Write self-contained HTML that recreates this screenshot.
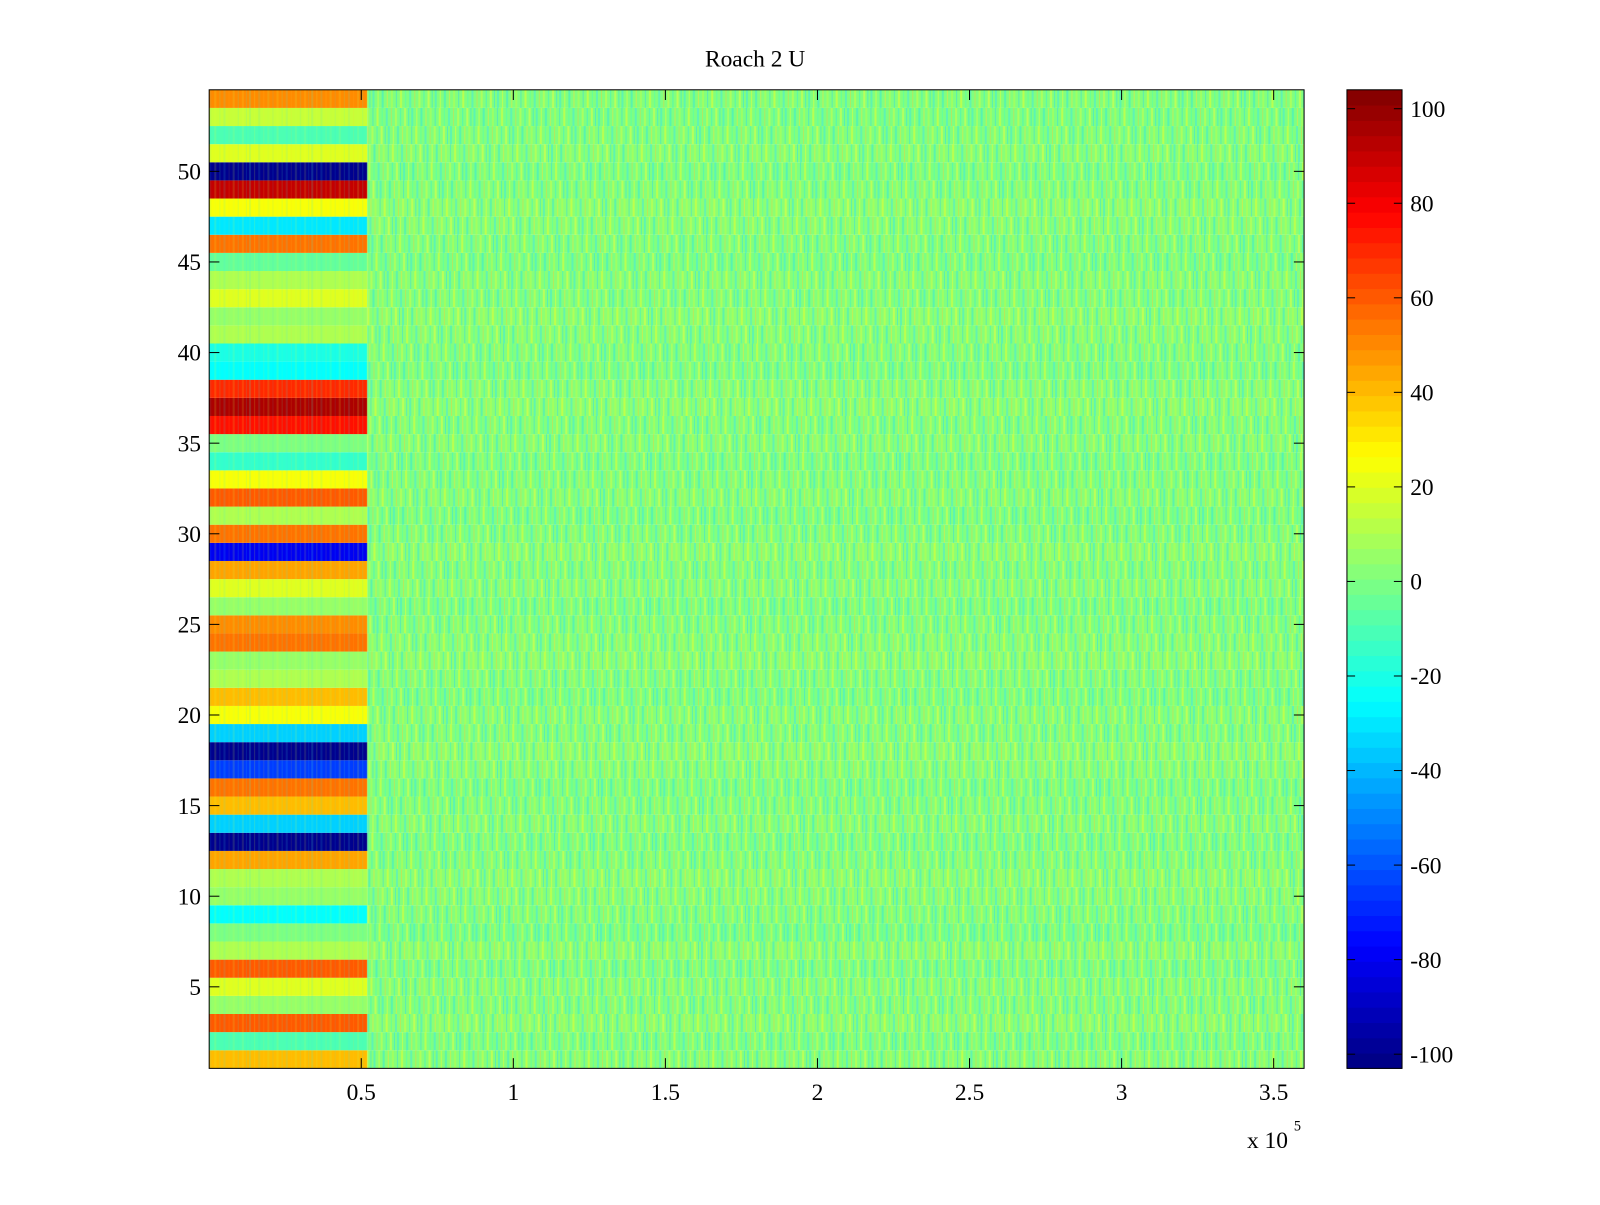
<!DOCTYPE html>
<html><head><meta charset="utf-8"><style>
body{margin:0;background:#fff;}
svg text{font-family:"Liberation Serif",serif;font-size:23px;fill:#000;}
</style></head><body>
<svg id="chart" width="1600" height="1200" viewBox="0 0 1568 1176" preserveAspectRatio="none" xmlns="http://www.w3.org/2000/svg">
<defs>
<pattern id="noise" patternUnits="userSpaceOnUse" width="61" height="18">
<rect x="0" width="2" height="18" fill="#4ff0c8" opacity="0.7"/>
<rect x="5" width="1" height="18" fill="#d8ff40" opacity="0.7"/>
<rect x="9" width="2" height="18" fill="#30e8e0" opacity="0.5"/>
<rect x="14" width="1" height="18" fill="#ffe030" opacity="0.5"/>
<rect x="18" width="2" height="18" fill="#b0ff50" opacity="0.6"/>
<rect x="23" width="1" height="18" fill="#20d0ff" opacity="0.4"/>
<rect x="27" width="2" height="18" fill="#e0ff30" opacity="0.6"/>
<rect x="32" width="1" height="18" fill="#50ffb0" opacity="0.6"/>
<rect x="36" width="2" height="18" fill="#40e8e8" opacity="0.5"/>
<rect x="41" width="1" height="18" fill="#ffc830" opacity="0.4"/>
<rect x="45" width="2" height="18" fill="#c8ff48" opacity="0.6"/>
<rect x="50" width="1" height="18" fill="#38f0d0" opacity="0.6"/>
<rect x="54" width="2" height="18" fill="#f0ff38" opacity="0.5"/>
<rect x="58" width="1" height="18" fill="#28e0f0" opacity="0.5"/>
</pattern>
</defs>
<g id="cells"></g>
<g id="axes"></g>
</svg>
<script>
// Left block (x < 0.52e5), row 1 at bottom
const leftValues = [40,-10,60,5,20,60,10,0,-25,5,10,45,-100,-35,40,55,-65,-100,-35,25,40,10,5,55,50,5,20,45,-80,55,10,60,25,-15,0,75,95,70,-25,-20,10,5,20,10,-5,55,-30,25,90,-100,20,-10,15,50];
// Right block row means
const rightValues = [2,0,3,1,2,0,3,-1,1,2,3,1,0,2,1,0,2,3,1,2,0,1,3,2,1,0,2,1,3,1,0,2,1,0,2,1,3,2,0,1,2,3,1,2,0,1,2,3,1,0,2,1,0,1];
const xTicks = [0.5,1,1.5,2,2.5,3,3.5];
const yTicks = [5,10,15,20,25,30,35,40,45,50];
const cbTicks = [-100,-80,-60,-40,-20,0,20,40,60,80,100];
const splitX = 0.52;
const title = "Roach 2 U";

const NS="http://www.w3.org/2000/svg";
const L=205,R=1278,T=88,B=1047, cMin=-103, cMax=104;
const xs=v=>L+(v-0)*(R-L)/3.6;
const ys=v=>B-(v-0.5)*(B-T)/54;
function jet(v){let t=(v-cMin)/(cMax-cMin);t=Math.max(0,Math.min(1,t));
 const f=x=>Math.round(255*Math.max(0,Math.min(1,1.5-Math.abs(x))));
 return `rgb(${f(4*t-3)},${f(4*t-2)},${f(4*t-1)})`;}
function mk(tag,attrs,parent){const e=document.createElementNS(NS,tag);for(const k in attrs)e.setAttribute(k,attrs[k]);parent.appendChild(e);return e;}
const cells=document.getElementById('cells'), axes=document.getElementById('axes');
for(let i=0;i<leftValues.length;i++){
 const r=i+1, y0=ys(r+0.5), h=ys(r-0.5)-y0;
 let e=mk('rect',{x:xs(0),y:y0,width:xs(splitX)-xs(0),height:h,fill:jet(leftValues[i])},cells);
 
 
 e=mk('rect',{x:xs(splitX),y:y0,width:R-xs(splitX),height:h,fill:jet(rightValues[i])},cells);
 
 
 const off=(i*23)%61;
 e=mk('rect',{x:xs(splitX)-off,y:y0,width:R-xs(splitX),height:h,fill:'url(#noise)',transform:`translate(${off},0)`},cells);
 
 
 e=mk('rect',{x:xs(0),y:y0,width:xs(splitX)-xs(0),height:h,fill:'url(#noise)',opacity:0.25},cells);
 
 
}
let fr=mk('rect',{x:L,y:T,width:R-L,height:B-T,fill:'none',stroke:'#000','stroke-width':1},axes);


xTicks.forEach(v=>{const x=xs(v);
 mk('line',{x1:x,x2:x,y1:B,y2:B-10,stroke:'#000'},axes);
 mk('line',{x1:x,x2:x,y1:T,y2:T+10,stroke:'#000'},axes);
 const t=mk('text',{x:x,y:B+31,'text-anchor':'middle'},axes);t.textContent=v;
 
 });
yTicks.forEach(v=>{const y=ys(v);
 mk('line',{x1:L,x2:L+10,y1:y,y2:y,stroke:'#000'},axes);
 mk('line',{x1:R,x2:R-10,y1:y,y2:y,stroke:'#000'},axes);
 const t=mk('text',{x:L-8,y:y+8,'text-anchor':'end'},axes);t.textContent=v;
 
 });
let ex=mk('text',{x:1222,y:1125},axes);ex.textContent='x 10';


let ex5=mk('text',{x:1268,y:1108,style:'font-size:14px'},axes);ex5.textContent='5';


let tt=mk('text',{x:740,y:65,'text-anchor':'middle'},axes);tt.textContent=title;


const CL=1320,CR=1374;
const cby=v=>B-(v-cMin)*(B-T)/(cMax-cMin);
for(let k=0;k<64;k++){const v0=cMin+k*(cMax-cMin)/64,v1=cMin+(k+1)*(cMax-cMin)/64;
 const e=mk('rect',{x:CL,y:cby(v1),width:CR-CL,height:cby(v0)-cby(v1)+0.5,fill:jet((v0+v1)/2)},axes);
 
 }
let cf=mk('rect',{x:CL,y:T,width:CR-CL,height:B-T,fill:'none',stroke:'#000'},axes);


cbTicks.forEach(v=>{const y=cby(v);
 mk('line',{x1:CL,x2:CL+8,y1:y,y2:y,stroke:'#000'},axes);
 mk('line',{x1:CR,x2:CR-8,y1:y,y2:y,stroke:'#000'},axes);
 const t=mk('text',{x:CR+8,y:y+8},axes);t.textContent=v;
 
 });
</script>
</body></html>
